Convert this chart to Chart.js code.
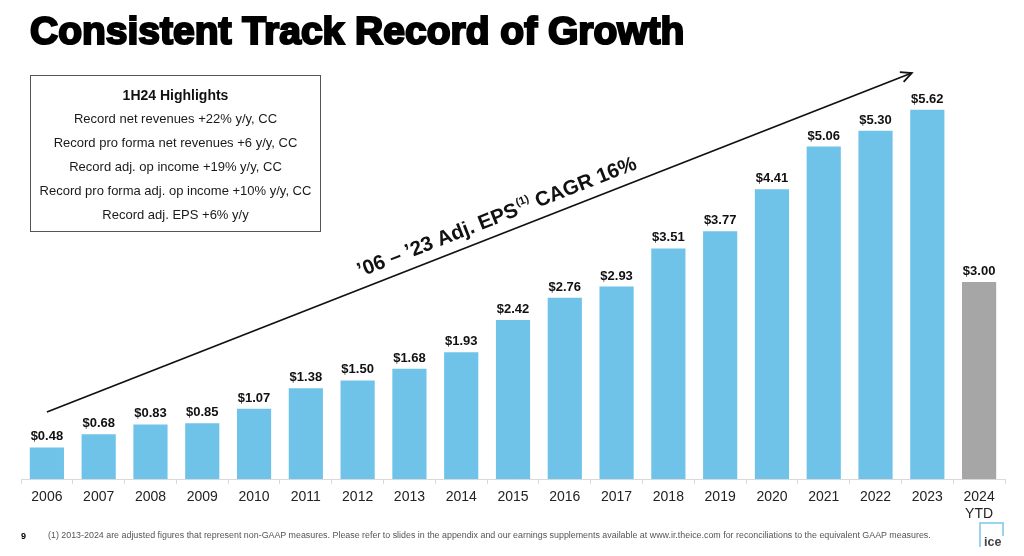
<!DOCTYPE html>
<html>
<head>
<meta charset="utf-8">
<script src="https://cdn.jsdelivr.net/npm/chart.js@4.4.1/dist/chart.umd.min.js"></script>
<style>
  html, body { margin:0; padding:0; background:#fff; }
  body { width:1024px; height:556px; position:relative; overflow:hidden; font-family:"Liberation Sans", Arial, sans-serif; }
  #title { position:absolute; left:30px; top:8px; font-family:"Liberation Sans", Arial, sans-serif; font-weight:700; font-size:39px; line-height:45px; color:#000; -webkit-text-stroke:2.2px #000; letter-spacing:0px; white-space:nowrap; }
  #wrap { position:absolute; left:0; top:0; width:1024px; height:556px; }
  #box { position:absolute; left:30px; top:75px; width:291px; height:157px; border:1px solid #555; box-sizing:border-box; text-align:center; padding-top:8px; color:#1a1a1a; }
  #box div { line-height:24px; font-size:13px; }
  #box div.h { font-weight:700; font-size:14px; color:#111; line-height:23px; }
  #foot { position:absolute; left:48px; top:530px; font-size:8.9px; color:#555; white-space:nowrap; }
  #pg { position:absolute; left:21px; top:531px; font-size:9px; font-weight:700; color:#000; }
  #logo { position:absolute; left:978px; top:520px; width:28px; height:30px; }
</style>
</head>
<body>
<div id="wrap"><canvas id="c" width="1024" height="556"></canvas></div>
<div id="title">Consistent Track Record of Growth</div>
<div id="box">
  <div class="h">1H24 Highlights</div>
  <div>Record net revenues +22% y/y, CC</div>
  <div>Record pro forma net revenues +6 y/y, CC</div>
  <div>Record adj. op income +19% y/y, CC</div>
  <div>Record pro forma adj. op income +10% y/y, CC</div>
  <div>Record adj. EPS +6% y/y</div>
</div>
<div id="pg">9</div>
<div id="foot">(1) 2013-2024 are adjusted figures that represent non-GAAP measures. Please refer to slides in the appendix and our earnings supplements available at www.ir.theice.com for reconciliations to the equivalent GAAP measures.</div>
<svg id="logo" viewBox="0 0 28 30">
  <polyline points="2,27 2,3 25,3 25,16" fill="none" stroke="#9bd3ef" stroke-width="2"/>
  <text x="6" y="26" font-family="Liberation Sans, Arial" font-size="12.5" font-weight="700" fill="#444">ice</text>
</svg>
<script>
const categories = ['2006','2007','2008','2009','2010','2011','2012','2013','2014','2015','2016','2017','2018','2019','2020','2021','2022','2023',['2024','YTD']];
const epsValues = [0.48,0.68,0.83,0.85,1.07,1.38,1.50,1.68,1.93,2.42,2.76,2.93,3.51,3.77,4.41,5.06,5.30,5.62,3.00];
const barColors = epsValues.map((v,i)=> i === epsValues.length-1 ? '#a6a6a6' : '#6fc3e9');
const arrowStart = {index: 0, value: 1.02};
const arrowEnd = {index: 16.7, value: 6.18};
const arrowText = ['\u201906 \u2013 \u201923 Adj. EPS', '(1)', ' CAGR 16%'];

const labelPlugin = {
  id:'labels',
  afterDatasetsDraw(chart){
    const ctx = chart.ctx;
    const meta = chart.getDatasetMeta(0);
    ctx.save();
    ctx.font = 'bold 13px "Liberation Sans", Arial, sans-serif';
    ctx.fillStyle = '#111';
    ctx.textAlign = 'center';
    ctx.textBaseline = 'alphabetic';
    meta.data.forEach((bar,i)=>{
      ctx.fillText('$' + epsValues[i].toFixed(2), bar.x, bar.y - 7);
    });
    ctx.restore();
  }
};

const arrowPlugin = {
  id:'arrow',
  afterDraw(chart){
    const ctx = chart.ctx;
    const xs = chart.scales.x, ys = chart.scales.y;
    const step = xs.getPixelForValue(1) - xs.getPixelForValue(0);
    const x1 = xs.getPixelForValue(0) + step*arrowStart.index, y1 = ys.getPixelForValue(arrowStart.value);
    const x2 = xs.getPixelForValue(0) + step*arrowEnd.index, y2 = ys.getPixelForValue(arrowEnd.value);
    const ang = Math.atan2(y2-y1, x2-x1);
    ctx.save();
    ctx.strokeStyle = '#111';
    ctx.lineWidth = 1.8;
    ctx.beginPath(); ctx.moveTo(x1,y1); ctx.lineTo(x2,y2); ctx.stroke();
    ctx.beginPath();
    ctx.moveTo(x2 - 12*Math.cos(ang-0.45), y2 - 12*Math.sin(ang-0.45));
    ctx.lineTo(x2, y2);
    ctx.lineTo(x2 - 12*Math.cos(ang+0.45), y2 - 12*Math.sin(ang+0.45));
    ctx.stroke();
    const t = 0.527;
    const cx = x1 + (x2-x1)*t, cy = y1 + (y2-y1)*t;
    ctx.translate(cx, cy);
    ctx.rotate(ang);
    const big = 'bold 20.5px "Liberation Sans", Arial, sans-serif';
    const small = 'bold 11px "Liberation Sans", Arial, sans-serif';
    ctx.font = big; const w1 = ctx.measureText(arrowText[0]).width; const w3 = ctx.measureText(arrowText[2]).width;
    ctx.font = small; const w2 = ctx.measureText(arrowText[1]).width;
    let x = -(w1+w2+w3)/2;
    const base = -11;
    ctx.fillStyle = '#111';
    ctx.textBaseline = 'alphabetic';
    ctx.font = big; ctx.fillText(arrowText[0], x, base); x += w1;
    ctx.font = small; ctx.fillText(arrowText[1], x+1, base-9); x += w2+1;
    ctx.font = big; ctx.fillText(arrowText[2], x, base);
    ctx.restore();
  }
};

new Chart(document.getElementById('c'), {
  type:'bar',
  data:{ labels: categories, datasets:[{ data: epsValues, backgroundColor: barColors, borderWidth:0, barPercentage:0.66, categoryPercentage:1.0 }] },
  options:{
    responsive:false, animation:false,
    layout:{ padding:{ left:21, right:19, top:52, bottom:37 } },
    plugins:{ legend:{display:false}, tooltip:{enabled:false} },
    scales:{
      x:{
        grid:{ display:true, drawOnChartArea:false, drawTicks:true, tickLength:5, color:'#d9d9d9', offset:true },
        border:{ display:true, color:'#d9d9d9', width:1 },
        ticks:{ color:'#222', font:{ size:14, family:'"Liberation Sans", Arial, sans-serif' }, padding:5, maxRotation:0, autoSkip:false },
        afterFit(scale){ scale.height = 40; }
      },
      y:{ display:false, min:0, max:6.5 }
    }
  },
  plugins:[labelPlugin, arrowPlugin]
});
</script>
</body>
</html>
